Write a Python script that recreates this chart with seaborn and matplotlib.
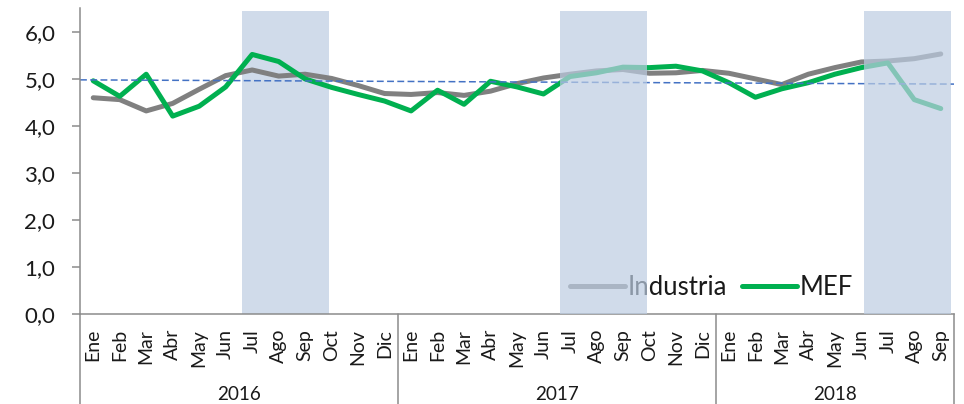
import matplotlib
matplotlib.use("Agg")
import matplotlib.pyplot as plt
from matplotlib.lines import Line2D
import numpy as np
import pandas as pd
import seaborn as sns


MONTHS = ["Ene", "Feb", "Mar", "Abr", "May", "Jun", "Jul", "Ago", "Sep", "Oct", "Nov", "Dic"]
YEARS = ["2016", "2017", "2018"]
MONTHS_PER_YEAR = [12, 12, 9]

INDUSTRIA = [
    4.60, 4.56, 4.32, 4.48, 4.78, 5.07, 5.19, 5.06, 5.10, 5.01, 4.86, 4.69,
    4.67, 4.71, 4.65, 4.74, 4.90, 5.02, 5.10, 5.17, 5.20, 5.12, 5.13, 5.18,
    5.12, 5.00, 4.88, 5.10, 5.24, 5.36, 5.38, 5.43, 5.53,
]
MEF = [
    4.96, 4.63, 5.10, 4.21, 4.42, 4.83, 5.52, 5.37, 5.00, 4.82, 4.67, 4.53,
    4.32, 4.76, 4.46, 4.95, 4.83, 4.68, 5.05, 5.13, 5.25, 5.24, 5.27, 5.17,
    4.92, 4.61, 4.79, 4.92, 5.10, 5.24, 5.34, 4.56, 4.37,
]
# dashed reference line, value at left and right edge of the plot
REF_LINE = [4.98, 4.89]
# shaded periods (in month-index units) and whether they sit over the lines
SHADE_START = [5.62, 17.63, 29.11]
SHADE_END = [8.90, 20.91, 32.38]
SHADE_ON_TOP = [False, True, True]

GRAY = "#808080"
GREEN = "#00B050"
AXIS = "#8C8C8C"
TEXT = "#1A1A1A"

sns.set_theme(style="white")
plt.rcParams["font.family"] = ["Lato", "DejaVu Sans"]

labels = [m for n in MONTHS_PER_YEAR for m in MONTHS[:n]]
n = len(labels)
df = pd.concat([
    pd.DataFrame({"pos": np.arange(n), "value": INDUSTRIA, "serie": "Industria"}),
    pd.DataFrame({"pos": np.arange(n), "value": MEF, "serie": "MEF"}),
])

fig = plt.figure(figsize=(9.64, 4.04), dpi=100)
ax = fig.add_axes([80 / 964, 89.7 / 404, 874 / 964, 306 / 404])

sns.lineplot(data=df, x="pos", y="value", hue="serie",
             palette={"Industria": GRAY, "MEF": GREEN},
             linewidth=3.6, ax=ax, legend=False, zorder=2)
for line in ax.lines:
    line.set_solid_capstyle("round")
    line.set_solid_joinstyle("round")

ax.plot([-0.5, n - 0.5], REF_LINE, color="#4472C4", lw=1.1,
        linestyle=(0, (4.5, 2.2)), zorder=2.5)

for x0, x1, top in zip(SHADE_START, SHADE_END, SHADE_ON_TOP):
    ax.axvspan(x0, x1, ymin=0, ymax=6.45 / 6.5, color="#BCCDE2", alpha=0.7,
               lw=0, zorder=3 if top else 0.5)

ax.set_xlim(-0.5, n - 0.5)
ax.set_ylim(0, 6.5)
ax.set_xlabel("")
ax.set_ylabel("")

ax.set_yticks(range(7))
ax.set_yticklabels([f"{v:.1f}".replace(".", ",") for v in range(7)])
ax.tick_params(axis="y", length=5.8, width=1.1, color=AXIS, labelsize=16,
               labelcolor=TEXT, pad=12, left=True)
ax.set_xticks(range(n))
ax.set_xticklabels(labels, rotation=90)
ax.tick_params(axis="x", length=0, labelsize=14, labelcolor=TEXT, pad=10.5)

for side in ["top", "right"]:
    ax.spines[side].set_visible(False)
for side in ["left", "bottom"]:
    ax.spines[side].set_color(AXIS)
    ax.spines[side].set_linewidth(1.1)

# year separators and year labels below the month labels
bounds = np.concatenate([[0], np.cumsum(MONTHS_PER_YEAR)]) - 0.5
trans = ax.get_xaxis_transform()
for b in bounds:
    ax.plot([b, b], [0, -0.3], transform=trans, clip_on=False, color=AXIS, lw=1.1)
for year, a, b in zip(YEARS, bounds[:-1], bounds[1:]):
    ax.text((a + b) / 2, -0.263, year, transform=trans, ha="center", va="center",
            fontsize=13.6, color=TEXT)

handles = [Line2D([], [], color=GRAY, lw=3.6, solid_capstyle="round"),
           Line2D([], [], color=GREEN, lw=3.6, solid_capstyle="round")]
leg = ax.legend(handles, ["Industria", "MEF"], loc="center left",
                bbox_to_anchor=(0.5606, 0.086), ncol=2, frameon=False, fontsize=18.5,
                handlelength=2.14, handletextpad=0.12, columnspacing=0.55,
                borderpad=0, borderaxespad=0)
for t in leg.get_texts():
    t.set_color(TEXT)
leg.set_zorder(1)

fig.savefig("out.png", dpi=100)
